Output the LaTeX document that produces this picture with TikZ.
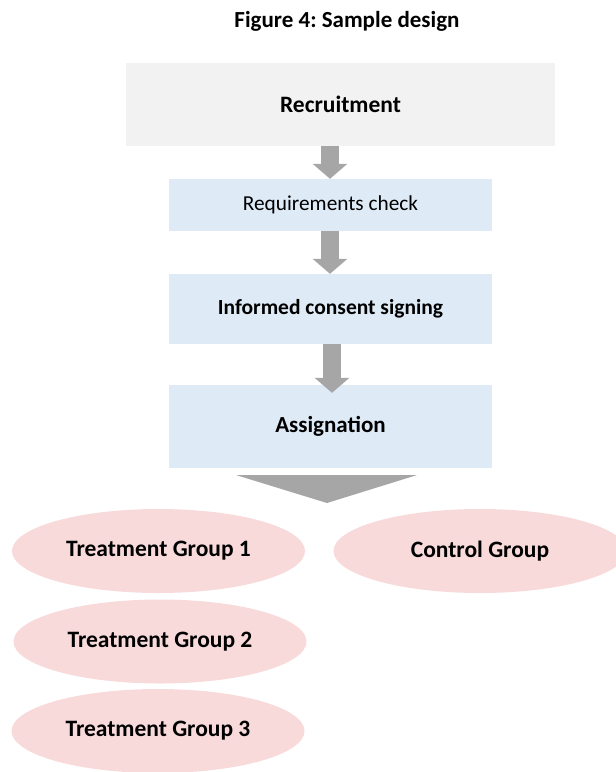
\documentclass[tikz,border=0pt]{standalone}
\usepackage{fontspec}
\setmainfont{Carlito}
\usetikzlibrary{arrows.meta}
\usetikzlibrary{shapes.geometric}
\frenchspacing

\definecolor{boxgray}{HTML}{F2F2F2}
\definecolor{boxblue}{HTML}{DEEAF6}
\definecolor{grouppink}{HTML}{F8DADB}
\definecolor{arrowgray}{HTML}{A6A6A6}

\begin{document}
\begin{tikzpicture}[x = 1pt, y = -1pt, font=\fontsize{21.3}{25}\selectfont]
\tikzstyle{stageStyle} = [shape = rectangle, inner sep = 0pt, minimum width = 323pt, fill = boxblue]
\tikzstyle{groupStyle} = [shape = ellipse, inner sep = 0pt, minimum width = 293pt, minimum height = 84pt, fill = grouppink, font = \fontsize{23.5}{28}\selectfont\bfseries]
\tikzstyle{fatArrow} = [draw = arrowgray, line width = 18pt, -{Triangle[width = 34pt, length = 15pt]}]
\useasboundingbox (0,0) rectangle (616,772);
\node[font = \fontsize{23}{27}\selectfont\bfseries] (title) at (347,21) {Figure 4: Sample design};
\node[shape = rectangle, fill = boxgray, minimum width = 429pt, minimum height = 83pt, font = \fontsize{23.5}{28}\selectfont\bfseries] (recruit) at (340.5,104.5) {Recruitment};
\node[stageStyle, minimum height = 52pt] (check) at (330.5,205) {Requirements check};
\node[stageStyle, minimum height = 70pt, font = \fontsize{21.5}{25}\selectfont\bfseries] (consent) at (330.5,309) {Informed consent signing};
\node[stageStyle, minimum height = 83pt, font = \fontsize{23}{27}\selectfont\bfseries] (assign) at (330.5,426.5) {Assignation};
\node[groupStyle] (treat1) at (158.5,551) {Treatment Group 1};
\node[groupStyle] (control) at (480,551) {Control Group};
\node[groupStyle] (treat2) at (160,641.5) {Treatment Group 2};
\node[groupStyle] (treat3) at (158,731) {Treatment Group 3};
\draw[fatArrow] (recruit.south -| 330,0) -- (check.north -| 330,0);
\draw[fatArrow] (check.south -| 330,0) -- (consent.north -| 330,0);
\draw[fatArrow, shorten >= -8pt] (consent.south -| 332,0) -- (assign.north -| 332,0);
\fill[arrowgray] (assign.south) ++(-94,7) -- ++(180,0) -- (327,503) -- cycle;
\end{tikzpicture}
\end{document}
